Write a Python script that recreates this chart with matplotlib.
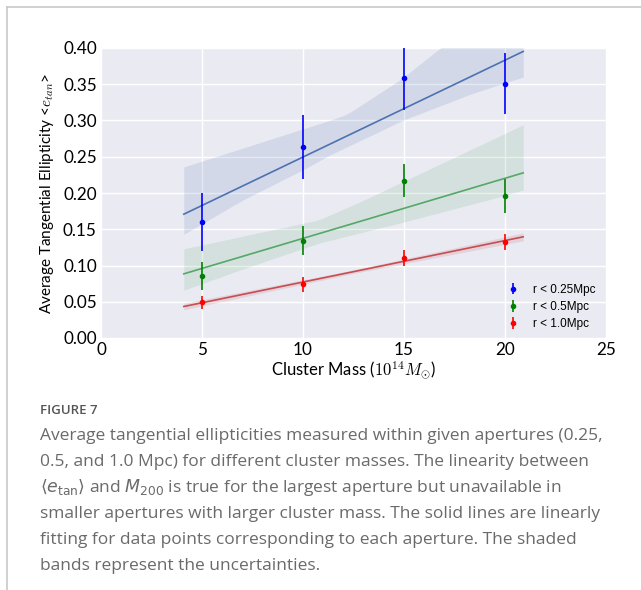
import numpy as np
import matplotlib
matplotlib.use("Agg")
import matplotlib.pyplot as plt
from matplotlib.lines import Line2D

# cluster masses (10^14 Msun)
masses = [5, 10, 15, 20]

# average tangential ellipticity per aperture, with errors
e_025 = [0.160, 0.263, 0.358, 0.351]
err_025 = [0.040, 0.044, 0.043, 0.042]
e_05 = [0.0855, 0.134, 0.217, 0.196]
err_05 = [0.019, 0.020, 0.023, 0.0235]
e_10 = [0.049, 0.074, 0.111, 0.132]
err_10 = [0.0095, 0.010, 0.011, 0.011]

labels = ["r < 0.25Mpc", "r < 0.5Mpc", "r < 1.0Mpc"]

# uncertainty bands (x, lower, upper)
band_025_x_lo = [4.1, 7.0, 10.0, 11.3, 15.0, 18.4, 20.9]
band_025_lo = [0.143, 0.19, 0.232, 0.252, 0.301, 0.3375, 0.36]
band_025_x_hi = [4.1, 11.3, 12.2, 14.8, 16.8, 20.9]
band_025_hi = [0.236, 0.300, 0.309, 0.356, 0.40, 0.45]

band_05_x_lo = [4.1, 7.0, 10.8, 15.0, 19.1, 20.9]
band_05_lo = [0.066, 0.095, 0.131, 0.160, 0.190, 0.204]
band_05_x_hi = [4.1, 10.8, 13.0, 20.9]
band_05_hi = [0.123, 0.163, 0.190, 0.294]

band_10_x = [4.1, 12.5, 20.9]
band_10_lo = [0.039, 0.089, 0.134]
band_10_hi = [0.048, 0.094, 0.145]

caption_title = "FIGURE 7"
caption_lines = [
    "Average tangential ellipticities measured within given apertures (0.25,",
    "0.5, and 1.0 Mpc) for different cluster masses. The linearity between",
    r"$\langle e_{\mathrm{tan}}\rangle$ and $M_{200}$ is true for the largest aperture but unavailable in",
    "smaller apertures with larger cluster mass. The solid lines are linearly",
    "fitting for data points corresponding to each aperture. The shaded",
    "bands represent the uncertainties.",
]

plt.rcParams["mathtext.fontset"] = "cm"

fig = plt.figure(figsize=(6.41, 5.90), dpi=100)
ax = fig.add_axes([101 / 641, 1 - 338 / 590, 505 / 641, 290 / 590])
ax.set_facecolor("#EAEAF2")
for s in ax.spines.values():
    s.set_visible(False)
ax.grid(True, color="white", lw=1.0)
ax.set_axisbelow(True)

fit_x = np.linspace(4.1, 20.9, 50)
series = [
    (e_025, err_025, "blue", "#4C72B0", band_025_x_lo, band_025_lo, band_025_x_hi, band_025_hi),
    (e_05, err_05, "green", "#55A868", band_05_x_lo, band_05_lo, band_05_x_hi, band_05_hi),
    (e_10, err_10, "red", "#C44E52", band_10_x, band_10_lo, band_10_x, band_10_hi),
]

for (y, yerr, pc, lc, xlo, lo, xhi, hi), lab in zip(series, labels):
    lower = np.interp(fit_x, xlo, lo)
    upper = np.interp(fit_x, xhi, hi)
    ax.fill_between(fit_x, lower, upper, color=lc, alpha=0.15, lw=0)
    k, b = np.polyfit(masses, y, 1)
    ax.plot(fit_x, k * fit_x + b, color=lc, lw=1.2)
    ax.errorbar(masses, y, yerr=yerr, fmt="o", color=pc, ms=3,
                elinewidth=1.2, capsize=0, label=lab)

ax.set_xlim(0, 25)
ax.set_ylim(0, 0.40)
ax.set_xticks([0, 5, 10, 15, 20, 25])
ax.set_yticks(np.arange(0, 0.41, 0.05))
ax.set_yticklabels([f"{v:.2f}" for v in np.arange(0, 0.41, 0.05)])
ax.tick_params(length=0, labelsize=12.3, pad=3)
for t in ax.get_xticklabels() + ax.get_yticklabels():
    t.set_family("Lato")

ax.set_xlabel(r"Cluster Mass ($10^{14}M_{\odot}$)", family="Lato", fontsize=12, labelpad=1)
ax.set_ylabel(r"Average Tangential Ellipticity <$e_{tan}$>", family="Lato", fontsize=11, labelpad=5)

leg = ax.legend(loc="lower right", bbox_to_anchor=(1.0, -0.01), frameon=False,
                prop={"family": "Liberation Sans", "size": 8.5},
                handlelength=1.0, handletextpad=1.2, labelspacing=0.45)

# page border lines
fig.add_artist(Line2D([7 / 641, 1], [1 - 7 / 590, 1 - 7 / 590], color="#c8c8c8", lw=1.2,
                      transform=fig.transFigure))
fig.add_artist(Line2D([7 / 641, 7 / 641], [0, 1 - 7 / 590], color="#c8c8c8", lw=1.2,
                      transform=fig.transFigure))

fig.text(40 / 641, 1 - 410 / 590, caption_title, family="Open Sans", fontsize=9.5,
         fontweight="semibold", color="#555555", va="center")
for i, line in enumerate(caption_lines):
    fig.text(40 / 641, 1 - (435.5 + 26 * i) / 590, line, family="Open Sans", fontsize=12.55,
             color="#6a6a6a", va="center", math_fontfamily="dejavusans")

fig.savefig("out.png", dpi=100)
